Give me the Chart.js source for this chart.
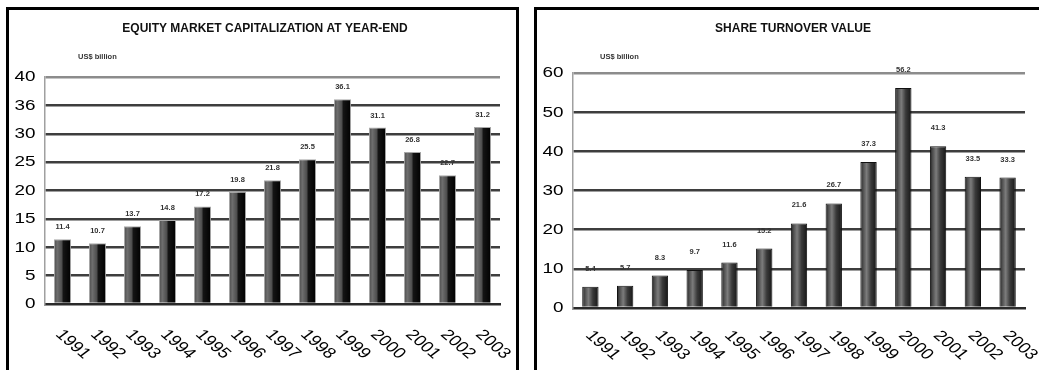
<!DOCTYPE html>
<html>
<head>
<meta charset="utf-8">
<script src="https://cdn.jsdelivr.net/npm/chart.js@4.4.1/dist/chart.umd.min.js"></script>
<style>
  html, body { margin: 0; padding: 0; background: #fff; overflow: hidden; }
  body { width: 1039px; height: 370px; position: relative; }
  .panel { position: absolute; top: 7px; border: 3px solid #000; border-bottom: none; background: #fff; }
  #p1 { left: 6px; width: 507px; height: 380px; }
  #p2 { left: 534px; width: 510px; height: 380px; }
  canvas { display: block; }
</style>
</head>
<body>
<div class="panel" id="p1"><canvas id="c1" width="507" height="360"></canvas></div>
<div class="panel" id="p2"><canvas id="c2" width="510" height="360"></canvas></div>
<script>
// Years shared by both charts
const years = ['1991','1992','1993','1994','1995','1996','1997','1998','1999','2000','2001','2002','2003'];

// Equity market capitalization at year-end (US$ billion)
const capTitle = 'EQUITY MARKET CAPITALIZATION AT YEAR-END';
const capValues = [11.4, 10.7, 13.7, 14.8, 17.2, 19.8, 21.8, 25.5, 36.1, 31.1, 26.8, 22.7, 31.2];
const capTickValues = [0, 5, 10, 15, 20, 25, 30, 35, 40];
const capTickLabels = ['0', '5', '10', '15', '20', '25', '30', '36', '40'];

// Share turnover value (US$ billion)
const turnTitle = 'SHARE TURNOVER VALUE';
const turnValues = [5.4, 5.7, 8.3, 9.7, 11.6, 15.2, 21.6, 26.7, 37.3, 56.2, 41.3, 33.5, 33.3];
const turnTickValues = [0, 10, 20, 30, 40, 50, 60];
const turnTickLabels = ['0', '10', '20', '30', '40', '50', '60'];

const unitLabel = 'US$ billion';

const FONT = '"Liberation Sans", Arial, sans-serif';

// Horizontal shading across each bar, for a rounded look
function barGradient(stops) {
  return function (ctx) {
    const chart = ctx.chart;
    const xs = chart.scales && chart.scales.x;
    if (!xs || ctx.dataIndex === undefined) return '#333';
    const cx = xs.getPixelForValue(ctx.dataIndex);
    const w = (xs.width / years.length) * ctx.dataset.barPercentage;
    if (!isFinite(cx) || !isFinite(w) || w <= 0) return '#333';
    const g = chart.ctx.createLinearGradient(cx - w / 2, 0, cx + w / 2, 0);
    stops.forEach(s => g.addColorStop(s[0], s[1]));
    return g;
  };
}

// Draws the titles, unit caption, axis labels and value labels
const decorations = {
  id: 'decorations',
  afterDraw(chart, args, o) {
    const ctx = chart.ctx;
    const area = chart.chartArea;
    const xs = chart.scales.x, ys = chart.scales.y;

    // title
    ctx.save();
    ctx.filter = 'blur(0.6px)';
    ctx.fillStyle = '#111';
    ctx.font = 'bold 12px ' + FONT;
    ctx.textAlign = 'center';
    ctx.textBaseline = 'middle';
    ctx.fillText(o.title, o.titleX, 19);
    // unit caption
    ctx.font = 'bold 7.5px ' + FONT;
    ctx.textAlign = 'left';
    ctx.fillStyle = '#333';
    ctx.fillText(unitLabel, o.unitX, 47);
    ctx.restore();

    // y tick labels
    ctx.save();
    ctx.fillStyle = '#000';
    ctx.font = '14px ' + FONT;
    ctx.textAlign = 'right';
    ctx.textBaseline = 'middle';
    o.tickValues.forEach((v, i) => {
      const y = ys.getPixelForValue(v);
      ctx.save();
      ctx.translate(area.left - 9.5, y + 0.5);
      ctx.scale(1.35, 1);
      ctx.fillText(o.tickLabels[i], 0, 0);
      ctx.restore();
    });
    ctx.restore();

    // x category labels, slanting down to the right
    ctx.save();
    ctx.fillStyle = '#000';
    ctx.font = '15px ' + FONT;
    ctx.textAlign = 'left';
    ctx.textBaseline = 'top';
    years.forEach((lab, i) => {
      const x = xs.getPixelForValue(i);
      ctx.save();
      ctx.translate(x + o.xLabelShift, area.bottom + o.xLabelGap);
      ctx.scale(1.25, 1);
      ctx.rotate(47 * Math.PI / 180);
      ctx.fillText(lab, 0, 0);
      ctx.restore();
    });
    ctx.restore();

    // value labels above bars
    ctx.save();
    ctx.filter = 'blur(0.5px)';
    ctx.fillStyle = '#333';
    ctx.font = 'bold 7.5px ' + FONT;
    ctx.textAlign = 'center';
    ctx.textBaseline = 'middle';
    const meta = chart.getDatasetMeta(0);
    const data = chart.data.datasets[0].data;
    meta.data.forEach((bar, i) => {
      ctx.fillText(data[i].toFixed(1), bar.x, bar.y - o.valueGap);
    });
    ctx.restore();
  }
};

function makeChart(id, cfg) {
  const canvas = document.getElementById(id);
  const W = canvas.width, H = canvas.height;
  const maxV = cfg.tickValues[cfg.tickValues.length - 1];
  const chart = new Chart(canvas, {
    type: 'bar',
    data: {
      labels: years,
      datasets: [{
        data: cfg.values,
        backgroundColor: barGradient(cfg.stops),
        borderColor: cfg.border,
        borderWidth: 1,
        categoryPercentage: 1,
        barPercentage: cfg.barPct
      }]
    },
    plugins: [decorations],
    options: {
      responsive: false,
      animation: false,
      devicePixelRatio: 1,
      layout: { padding: { left: 0, right: W - cfg.right, top: cfg.top, bottom: 0 } },
      plugins: {
        legend: { display: false },
        tooltip: { enabled: false },
        title: { display: false },
        decorations: {
          title: cfg.title, titleX: cfg.titleX, unitX: cfg.unitX,
          tickValues: cfg.tickValues, tickLabels: cfg.tickLabels,
          xLabelGap: cfg.xLabelGap, xLabelShift: cfg.xLabelShift, valueGap: cfg.valueGap
        }
      },
      scales: {
        x: {
          ticks: { display: false },
          grid: { display: false, drawTicks: false },
          border: { display: true, color: '#2a2a2a', width: 2.5 },
          afterFit(scale) { scale.height = H - cfg.bottom; }
        },
        y: {
          min: 0, max: maxV,
          afterBuildTicks(scale) { scale.ticks = cfg.tickValues.map(v => ({ value: v })); },
          ticks: { display: false },
          grid: {
            drawTicks: false,
            lineWidth: 2.5,
            color: c => c.tick && c.tick.value === maxV ? '#8c8c8c' : (c.tick && c.tick.value === 0 ? 'rgba(0,0,0,0)' : '#3e3e3e')
          },
          border: { display: true, color: '#a0a0a0', width: 1.5 },
          afterFit(scale) { scale.width = cfg.left; }
        }
      }
    }
  });
  chart.update();
  return chart;
}

makeChart('c1', {
  values: capValues, tickValues: capTickValues, tickLabels: capTickLabels,
  title: capTitle, titleX: 256, unitX: 69,
  left: 36, right: 491, top: 67, bottom: 294,
  barPct: 0.49, xLabelGap: 23, xLabelShift: 3, valueGap: 12,
  border: '#a8a8a8',
  stops: [[0, '#4a4a4a'], [0.2, '#6e6e6e'], [0.45, '#4e4e4e'], [0.55, '#141414'], [1, '#000']]
});

makeChart('c2', {
  values: turnValues, tickValues: turnTickValues, tickLabels: turnTickLabels,
  title: turnTitle, titleX: 256, unitX: 63,
  left: 36, right: 488, top: 63, bottom: 298,
  barPct: 0.47, xLabelGap: 20, xLabelShift: 5, valueGap: 18,
  border: '#111',
  stops: [[0, '#1e1e1e'], [0.15, '#4a4a4a'], [0.38, '#7c7c7c'], [0.65, '#3a3a3a'], [1, '#151515']]
});
</script>
</body>
</html>
